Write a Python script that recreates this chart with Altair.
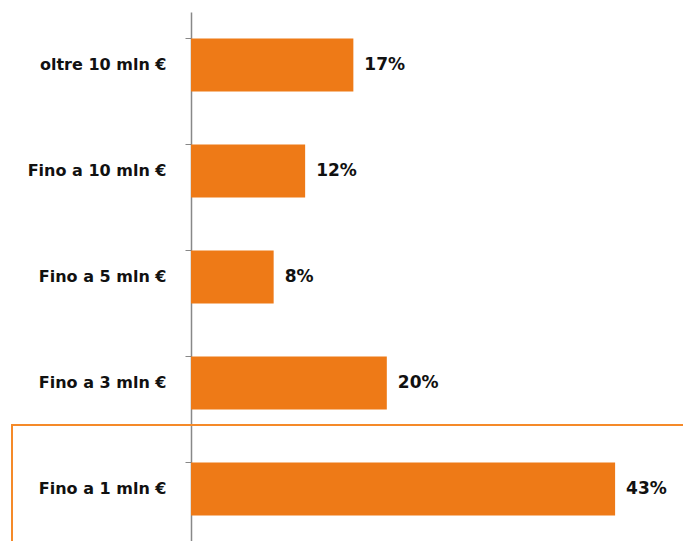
import altair as alt
import pandas as pd

categories = ["oltre 10 mln €", "Fino a 10 mln €", "Fino a 5 mln €", "Fino a 3 mln €", "Fino a 1 mln €"]
values = [16.5, 11.6, 8.4, 19.9, 43.1]
labels = ["17%", "12%", "8%", "20%", "43%"]

df = pd.DataFrame({"cat": categories, "val": values, "lab": labels})

FONT = "DejaVu Sans"
ORANGE = "#EE7A17"

y_enc = alt.Y("cat:N", sort=categories,
              scale=alt.Scale(paddingInner=0.5, paddingOuter=0.25),
              axis=alt.Axis(title=None, bandPosition=0, tickSize=6, tickColor="#888888",
                            domainColor="#888888", domainWidth=1.5, labelPadding=19,
                            grid=False,
                            labelFont=FONT, labelFontSize=16, labelFontWeight="bold",
                            labelColor="#111111", labelLimit=300))
x_enc = alt.X("val:Q", scale=alt.Scale(domain=[0, 50]), axis=None)

bars = alt.Chart(df).mark_bar(color=ORANGE).encode(x=x_enc, y=y_enc)
text = alt.Chart(df).mark_text(align="left", dx=11, font=FONT, fontSize=17,
                               fontWeight="bold", color="#111111").encode(
    x=x_enc, y=alt.Y("cat:N", sort=categories), text="lab:N")
box = alt.Chart(df).mark_rect(fillOpacity=0, stroke="#F58A2A", strokeWidth=1.5).encode(
    x=alt.value(-179), x2=alt.value(540), y=alt.value(413), y2=alt.value(545))

chart = alt.layer(bars, text, box).properties(
    width=492, height=530,
    background="white",
    autosize=alt.AutoSizeParams(type="none"),
    padding={"left": 183, "top": 4, "right": 0, "bottom": 0},
).configure_view(stroke=None, strokeWidth=0).configure_axis(grid=False)

chart.save("out.html", embed_options={"renderer": "svg", "actions": False})
